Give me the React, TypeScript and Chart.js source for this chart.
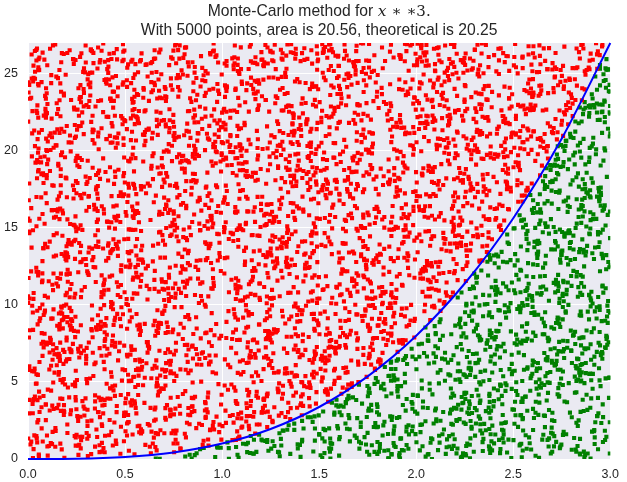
import React, { useEffect, useRef } from "react";
import { Chart, registerables } from "chart.js";

Chart.register(...registerables);

// Monte-Carlo sample: 5000 points, seeded so the picture is reproducible
const N_POINTS = 5000;
const X_MAX = 3;
const Y_MAX = 27;
const SEED = 20240607;

// curve y = x**3
const curveX = [0, 0.25, 0.5, 0.75, 1.0, 1.25, 1.5, 1.75, 2.0, 2.25, 2.5, 2.75, 3.0];
const curveY = [0, 0.016, 0.125, 0.42, 1.0, 1.95, 3.375, 5.36, 8.0, 11.39, 15.63, 20.8, 27.0];

const xTicks = [0, 0.5, 1.0, 1.5, 2.0, 2.5, 3.0];
const yTicks = [0, 5, 10, 15, 20, 25];

const titleLine1 = "Monte-Carlo method for ";
const titleMath = ["x", " \u2217 \u22173."];
const titleLine2 = "With 5000 points, area is 20.56, theoretical is 20.25";

function mulberry32(a: number) {
  return function () {
    a |= 0;
    a = (a + 0x6d2b79f5) | 0;
    let t = Math.imul(a ^ (a >>> 15), 1 | a);
    t = (t + Math.imul(t ^ (t >>> 7), 61 | t)) ^ t;
    return ((t ^ (t >>> 14)) >>> 0) / 4294967296;
  };
}

const rng = mulberry32(SEED);
const pointsX: number[] = [];
const pointsY: number[] = [];
for (let i = 0; i < N_POINTS; i++) {
  pointsX.push(rng() * X_MAX);
  pointsY.push(rng() * Y_MAX);
}

export default function App() {
  const ref = useRef<HTMLCanvasElement | null>(null);
  useEffect(() => {
    const above: { x: number; y: number }[] = [];
    const below: { x: number; y: number }[] = [];
    for (let i = 0; i < pointsX.length; i++) {
      const p = { x: pointsX[i], y: pointsY[i] };
      if (p.y > p.x * p.x * p.x) above.push(p);
      else below.push(p);
    }
    const curve = curveX.map((x, i) => ({ x, y: curveY[i] }));

    const bgPlugin = {
      id: "bg",
      beforeDraw(chart: any) {
        const { ctx, chartArea: a } = chart;
        ctx.save();
        ctx.fillStyle = "#EAEAF2";
        ctx.fillRect(a.left, a.top, a.right - a.left, a.bottom - a.top);
        ctx.restore();
      },
      afterDraw(chart: any) {
        const ctx = chart.ctx;
        const cx = (chart.chartArea.left + chart.chartArea.right) / 2;
        ctx.save();
        ctx.fillStyle = "#262626";
        ctx.textBaseline = "alphabetic";
        const sans = "15.7px 'Liberation Sans', Arial, sans-serif";
        const ital = "italic 15.5px 'DejaVu Serif', serif";
        const serif = "15px 'DejaVu Serif', serif";
        ctx.font = sans;
        const w1 = ctx.measureText(titleLine1).width;
        ctx.font = ital;
        const w2 = ctx.measureText(titleMath[0]).width;
        ctx.font = serif;
        const w3 = ctx.measureText(titleMath[1]).width;
        let x = cx - (w1 + w2 + w3) / 2;
        const y1 = 16;
        ctx.textAlign = "left";
        ctx.font = sans;
        ctx.fillText(titleLine1, x, y1);
        x += w1;
        ctx.font = ital;
        ctx.fillText(titleMath[0], x, y1);
        x += w2;
        ctx.font = serif;
        ctx.fillText(titleMath[1], x, y1);
        ctx.font = sans;
        ctx.textAlign = "center";
        ctx.fillText(titleLine2, cx, 35);
        ctx.restore();
      },
    };

    const chart = new Chart(ref.current!, {
      type: "scatter",
      data: {
        datasets: [
          {
            type: "line",
            data: curve,
            borderColor: "#0000FF",
            borderWidth: 2,
            pointRadius: 0,
            cubicInterpolationMode: "monotone",
            fill: false,
            clip: false,
            order: 0,
          } as any,
          {
            data: above,
            pointStyle: "rect",
            pointRadius: 2.9,
            pointBorderWidth: 0,
            backgroundColor: "#FF0000",
            borderColor: "#FF0000",
            order: 1,
          },
          {
            data: below,
            pointStyle: "rect",
            pointRadius: 2.9,
            pointBorderWidth: 0,
            backgroundColor: "#008000",
            borderColor: "#008000",
            order: 2,
          },
        ],
      },
      options: {
        animation: false,
        responsive: false,
        layout: { padding: { top: 43, right: 13, left: 0, bottom: 0 } },
        plugins: {
          legend: { display: false },
          tooltip: { enabled: false },
          title: { display: false },
        },
        scales: {
          x: {
            type: "linear",
            min: 0,
            max: X_MAX,
            afterBuildTicks: (s: any) => {
              s.ticks = xTicks.map((v) => ({ value: v }));
            },
            afterFit: (s: any) => {
              s.height = 23;
            },
            ticks: {
              callback: (v: any) => Number(v).toFixed(1),
              color: "#262626",
              font: { family: "'Liberation Sans', Arial, sans-serif", size: 12.5 },
              padding: 8,
              maxRotation: 0,
              autoSkip: false,
            },
            grid: { color: "#FFFFFF", lineWidth: 1, drawTicks: false },
            border: { display: false },
          },
          y: {
            type: "linear",
            min: 0,
            max: Y_MAX,
            afterBuildTicks: (s: any) => {
              s.ticks = yTicks.map((v) => ({ value: v }));
            },
            afterFit: (s: any) => {
              s.width = 28;
            },
            ticks: {
              color: "#262626",
              font: { family: "'Liberation Sans', Arial, sans-serif", size: 12.5 },
              padding: 10,
              autoSkip: false,
            },
            grid: { color: "#FFFFFF", lineWidth: 1, drawTicks: false },
            border: { display: false },
          },
        },
      },
      plugins: [bgPlugin],
    });
    return () => chart.destroy();
  }, []);

  return (
    <div style={{ position: "fixed", left: 0, top: 0, width: 627, height: 482, background: "#fff" }}>
      <canvas ref={ref} width={627} height={482} style={{ width: 627, height: 482 }} />
    </div>
  );
}
